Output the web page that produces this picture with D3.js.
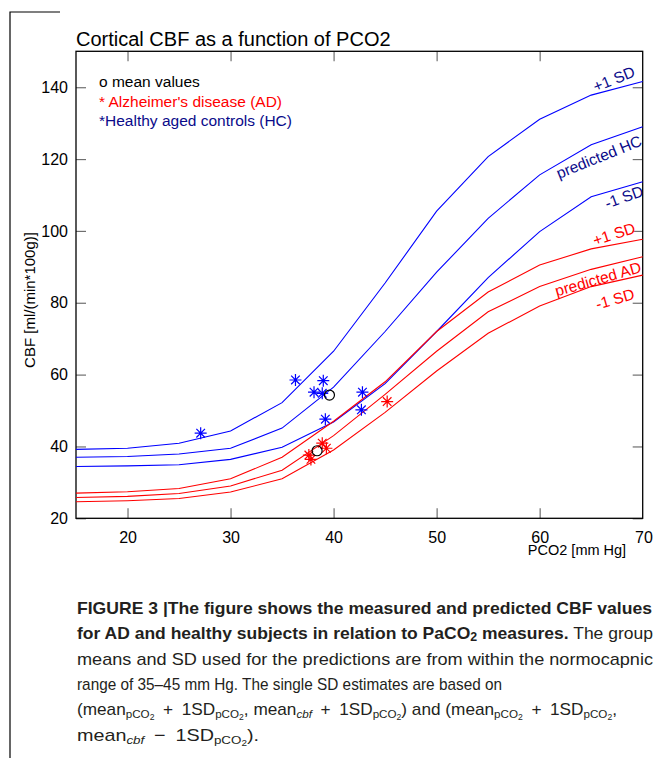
<!DOCTYPE html>
<html><head><meta charset="utf-8">
<script src="https://cdn.jsdelivr.net/npm/d3@7"></script>
<style>body{margin:0;background:#fff}svg{display:block}</style>
</head><body>
<svg id="c" width="654" height="758"></svg>
<script>
// ---- data ----
const pco2 = [15,20,25,30,35,40,45,50,55,60,65,70];
const hcPlus1 = [39.2,39.5,40.9,44.3,52.2,66.5,85.5,105.5,120.7,131.1,137.8,141.6];
const hcPred  = [37.0,37.2,37.9,39.5,45.1,56.5,72.0,88.5,103.5,115.6,124.0,129.0];
const hcMinus1= [34.4,34.6,34.9,36.4,39.8,46.8,57.5,72.0,87.0,99.8,109.5,113.7];
const adPlus1 = [27.0,27.4,28.3,31.0,37.0,47.0,58.0,72.0,83.0,90.5,95.0,97.7];
const adPred  = [25.8,26.1,26.9,29.0,33.4,43.0,54.5,66.5,77.5,84.5,89.3,92.8];
const adMinus1= [24.6,24.9,25.5,27.3,31.0,39.0,49.5,61.0,71.5,79.1,84.5,87.7];
const hcPtsX = [27.1,36.3,39.0,38.1,38.9,42.8,42.7,39.2];
const hcPtsY = [43.7,58.5,58.3,55.1,54.8,55.1,50.2,47.6];
const adPtsX = [37.6,37.8,38.9,39.3,45.2];
const adPtsY = [37.6,36.4,40.9,39.5,52.5];
const meanX = [39.6,38.4];
const meanY = [54.3,38.8];
const xTicks = [20,30,40,50,60];
const yTicks = [20,40,60,80,100,120,140];
const title = "Cortical CBF as a function of PCO2";
const legendLines = ["o mean values","* Alzheimer's disease (AD)","*Healthy aged controls (HC)"];

// ---- chart ----
const RED="#ff0000", BLUE="#0000ff", NAVY="#0a0a8a";
const FONT="'Liberation Sans', Arial, Helvetica, sans-serif";
const svg = d3.select("#c").style("font-family",FONT);
const L=76,R=642.7,T=51.3,B=518.3;
const x = d3.scaleLinear([15,70],[L,R]);
const y = d3.scaleLinear([20,150],[B,T]);

// page border
svg.append("path").attr("d","M10,758V12H60").attr("fill","none").attr("stroke","#000").attr("stroke-width",1.2);

// axes
function styleAxis(g){g.select(".domain").remove();g.selectAll(".tick line").attr("stroke","#6f6f6f").attr("stroke-width",1.2);g.selectAll("text").attr("fill","#000").style("font-family",FONT).style("font-size","16px");}
svg.append("g").attr("transform",`translate(0,${B})`)
  .call(d3.axisBottom(x).tickValues(xTicks).tickSize(-10).tickPadding(13).tickFormat(d3.format("d"))).call(styleAxis);
svg.append("g").attr("transform",`translate(0,${T})`)
  .call(d3.axisTop(x).tickValues(xTicks).tickSize(-10).tickFormat("")).call(styleAxis);
svg.append("g").attr("transform",`translate(${L},0)`)
  .call(d3.axisLeft(y).tickValues(yTicks).tickSize(-10).tickPadding(8).tickFormat(d3.format("d"))).call(styleAxis);
svg.append("g").attr("transform",`translate(${R},0)`)
  .call(d3.axisRight(y).tickValues(yTicks).tickSize(-10).tickFormat("")).call(styleAxis);
svg.append("text").attr("x",644).attr("y",B+24.5).attr("text-anchor","middle").style("font-size","16px").text("70");

svg.append("rect").attr("x",L).attr("y",T).attr("width",R-L).attr("height",B-T)
  .attr("fill","none").attr("stroke","#000").attr("stroke-width",1.3);

// titles
svg.append("text").attr("x",L).attr("y",45.5).style("font-size","20px").text(title);
svg.append("text").attr("x",577).attr("y",555).attr("text-anchor","middle").style("font-size","14.5px").text("PCO2 [mm Hg]");
svg.append("text").attr("transform","translate(35,300) rotate(-90)").attr("text-anchor","middle").style("font-size","15px").text("CBF [ml/(min*100g)]");

// legend
const legColors=["#000",RED,NAVY];
legendLines.forEach((t,i)=>svg.append("text").attr("x",99).attr("y",87+19.5*i).style("font-size","15.5px").attr("fill",legColors[i]).text(t));

// curves
const line = d3.line().x((d,i)=>x(pco2[i])).y(d=>y(d));
[[hcPlus1,BLUE],[hcPred,BLUE],[hcMinus1,BLUE],[adPlus1,RED],[adPred,RED],[adMinus1,RED]].forEach(([v,c])=>
  svg.append("path").attr("d",line(v)).attr("fill","none").attr("stroke",c).attr("stroke-width",1.1));

// asterisks
function star(cx,cy){const a=6,b=4.3;return `M${cx-a},${cy}H${cx+a}M${cx},${cy-a}V${cy+a}M${cx-b},${cy-b}L${cx+b},${cy+b}M${cx-b},${cy+b}L${cx+b},${cy-b}`;}
svg.append("g").selectAll("path").data(hcPtsX).join("path").attr("d",(d,i)=>star(x(d),y(hcPtsY[i]))).attr("stroke",BLUE).attr("stroke-width",1.2).attr("fill","none");
svg.append("g").selectAll("path").data(adPtsX).join("path").attr("d",(d,i)=>star(x(d),y(adPtsY[i]))).attr("stroke",RED).attr("stroke-width",1.2).attr("fill","none");
svg.append("g").selectAll("circle").data(meanX).join("circle").attr("cx",d=>x(d)).attr("cy",(d,i)=>y(meanY[i])).attr("r",5).attr("fill","none").attr("stroke","#000").attr("stroke-width",1.2);

// curve labels
const labs=[["+1 SD",614,79,-22,NAVY],["predicted HC",599,157,-22,NAVY],["-1 SD",624,197,-20,NAVY],
            ["+1 SD",614,234,-18,RED],["predicted AD",598,279,-16,RED],["-1 SD",615,299,-16,RED]];
labs.forEach(([t,cx,cy,a,c])=>svg.append("text").attr("transform",`translate(${cx},${cy}) rotate(${a})`)
  .attr("text-anchor","middle").attr("dy","0.35em").style("font-size","15.5px").attr("fill",c).text(t));

// caption
const cap = svg.append("g").style("font-size","17px").attr("fill","#231f20");
const cx0=77, base=614, lh=25.3;
const SP="\u2002";
function pco(t){t.append("tspan").attr("baseline-shift","-28%").style("font-size","11.5px").text("pCO");t.append("tspan").attr("baseline-shift","-50%").style("font-size","8.5px").text("2");}
function cbf(t){t.append("tspan").attr("baseline-shift","-28%").style("font-size","11.5px").style("font-style","italic").text("cbf");}
cap.append("text").attr("x",cx0).attr("y",base).attr("textLength",575).attr("lengthAdjust","spacingAndGlyphs").style("font-weight","bold")
  .text("FIGURE 3 |The figure shows the measured and predicted CBF values");
let t2=cap.append("text").attr("x",cx0).attr("y",base+lh).attr("textLength",576).attr("lengthAdjust","spacingAndGlyphs");
t2.append("tspan").style("font-weight","bold").text("for AD and healthy subjects in relation to PaCO");
t2.append("tspan").style("font-weight","bold").attr("baseline-shift","-20%").style("font-size","12px").text("2");
t2.append("tspan").style("font-weight","bold").text(" measures.");
t2.append("tspan").text(" The group");
cap.append("text").attr("x",cx0).attr("y",base+2*lh).attr("textLength",576).attr("lengthAdjust","spacingAndGlyphs")
  .text("means and SD used for the predictions are from within the normocapnic");
cap.append("text").attr("x",cx0).attr("y",base+3*lh).attr("textLength",425).attr("lengthAdjust","spacingAndGlyphs")
  .text("range of 35–45 mm Hg. The single SD estimates are based on");
let t5=cap.append("text").attr("x",cx0).attr("y",base+4*lh).attr("textLength",540).attr("lengthAdjust","spacingAndGlyphs");
t5.append("tspan").text("(mean");pco(t5);t5.append("tspan").text(SP+"+"+SP+"1SD");pco(t5);t5.append("tspan").text(", mean");cbf(t5);
t5.append("tspan").text(SP+"+"+SP+"1SD");pco(t5);t5.append("tspan").text(") and (mean");pco(t5);t5.append("tspan").text(SP+"+"+SP+"1SD");pco(t5);t5.append("tspan").text(",");
let t6=cap.append("text").attr("x",cx0).attr("y",base+5*lh).attr("textLength",182).attr("lengthAdjust","spacingAndGlyphs");
t6.append("tspan").text("mean");cbf(t6);
t6.append("tspan").text(SP+"−"+SP+"1SD");pco(t6);t6.append("tspan").text(").");
</script>
</body></html>
